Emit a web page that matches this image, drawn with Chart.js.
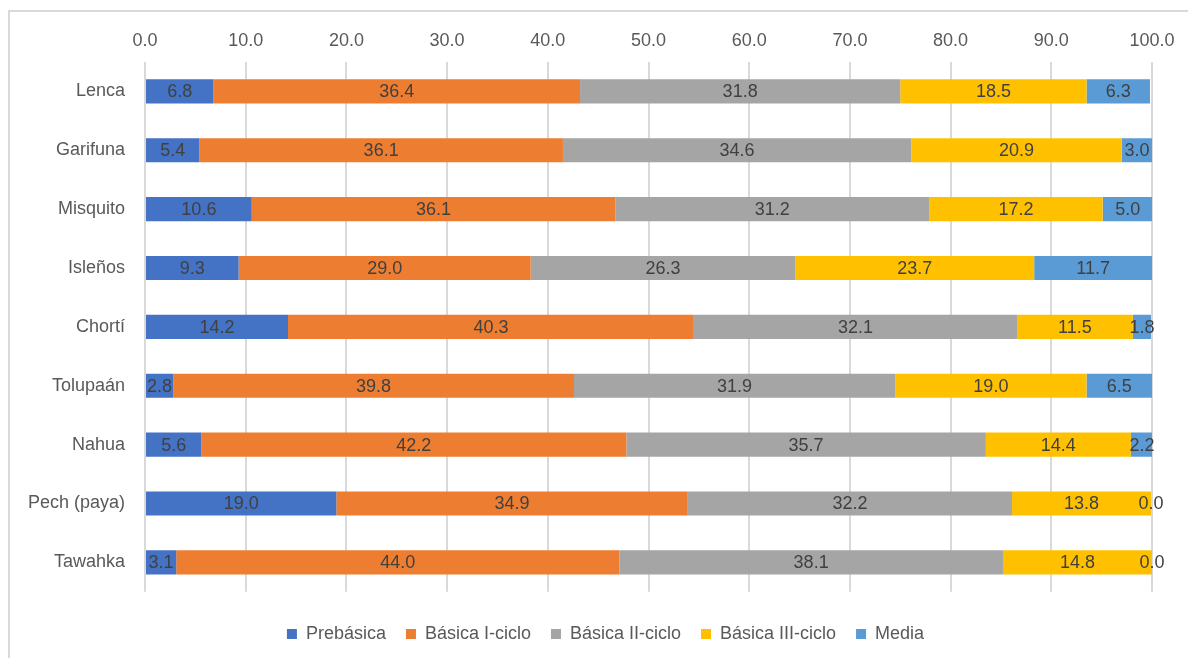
<!DOCTYPE html>
<html>
<head>
<meta charset="utf-8">
<script src="https://cdn.jsdelivr.net/npm/chart.js@4/dist/chart.umd.min.js"></script>
<style>
  body { margin: 0; background: #fff; }
  #marco { position: absolute; left: 8px; top: 10px; width: 1300px; height: 800px; border: 2px solid #d9d9d9; }
  #lienzo { position: absolute; left: 0; top: 0; }
</style>
</head>
<body>
<div id="marco"></div>
<canvas id="lienzo" width="1188" height="658"></canvas>
<script>
const pueblos = ['Lenca', 'Garifuna', 'Misquito', 'Isleños', 'Chortí', 'Tolupaán', 'Nahua', 'Pech (paya)', 'Tawahka'];
const prebasica = [6.8, 5.4, 10.6, 9.3, 14.2, 2.8, 5.6, 19.0, 3.1];
const basica1 = [36.4, 36.1, 36.1, 29.0, 40.3, 39.8, 42.2, 34.9, 44.0];
const basica2 = [31.8, 34.6, 31.2, 26.3, 32.1, 31.9, 35.7, 32.2, 38.1];
const basica3 = [18.5, 20.9, 17.2, 23.7, 11.5, 19.0, 14.4, 13.8, 14.8];
const media = [6.3, 3.0, 5.0, 11.7, 1.8, 6.5, 2.2, 0.0, 0.0];

const fuente = "'Liberation Sans', Arial, sans-serif";

// etiquetas de valor en el centro de cada segmento
const etiquetas = {
  id: 'etiquetas',
  afterDatasetsDraw(chart) {
    const ctx = chart.ctx;
    ctx.save();
    ctx.font = '18px ' + fuente;
    ctx.fillStyle = '#404040';
    ctx.textAlign = 'center';
    ctx.textBaseline = 'middle';
    chart.data.datasets.forEach((ds, i) => {
      chart.getDatasetMeta(i).data.forEach((bar, j) => {
        const x = (bar.x + bar.base) / 2;
        ctx.fillText(ds.data[j].toFixed(1), x, bar.y + 1);
      });
    });
    ctx.restore();
  }
};

new Chart(document.getElementById('lienzo'), {
  type: 'bar',
  data: {
    labels: pueblos,
    datasets: [
      { label: 'Prebásica', data: prebasica, backgroundColor: '#4472C4' },
      { label: 'Básica I-ciclo', data: basica1, backgroundColor: '#ED7D31' },
      { label: 'Básica II-ciclo', data: basica2, backgroundColor: '#A5A5A5' },
      { label: 'Básica III-ciclo', data: basica3, backgroundColor: '#FFC000' },
      { label: 'Media', data: media, backgroundColor: '#5B9BD5' }
    ]
  },
  options: {
    indexAxis: 'y',
    responsive: false,
    animation: false,
    barPercentage: 0.41,
    categoryPercentage: 1,
    layout: { padding: { top: 20, right: 36, bottom: 5, left: 20 } },
    scales: {
      x: {
        position: 'top',
        stacked: true,
        min: 0,
        max: 100,
        ticks: {
          stepSize: 10,
          padding: 10,
          color: '#595959',
          font: { family: fuente, size: 18 },
          callback: v => v.toFixed(1)
        },
        grid: { color: '#d9d9d9', lineWidth: 2, drawTicks: false },
        border: { display: false },
        afterFit: s => { s.height = 42; }
      },
      y: {
        stacked: true,
        ticks: {
          padding: 12,
          color: '#595959',
          font: { family: fuente, size: 18 }
        },
        grid: { display: false },
        border: { display: false },
        afterFit: s => { s.width = 125; }
      }
    },
    plugins: {
      tooltip: { enabled: false },
      legend: {
        position: 'bottom',
        title: { display: true, text: ' ', padding: { top: 0, bottom: 0 }, font: { size: 11 } },
        labels: {
          boxWidth: 10,
          boxHeight: 10,
          padding: 20,
          color: '#595959',
          font: { family: fuente, size: 18 },
          // hueco vacío al inicio para correr la leyenda a la derecha como en el original
          generateLabels: chart => [
            { text: '', fillStyle: 'rgba(0,0,0,0)', strokeStyle: 'rgba(0,0,0,0)', lineWidth: 0, hidden: false },
            ...Chart.defaults.plugins.legend.labels.generateLabels(chart)
          ]
        }
      }
    }
  },
  plugins: [etiquetas]
});
</script>
</body>
</html>
